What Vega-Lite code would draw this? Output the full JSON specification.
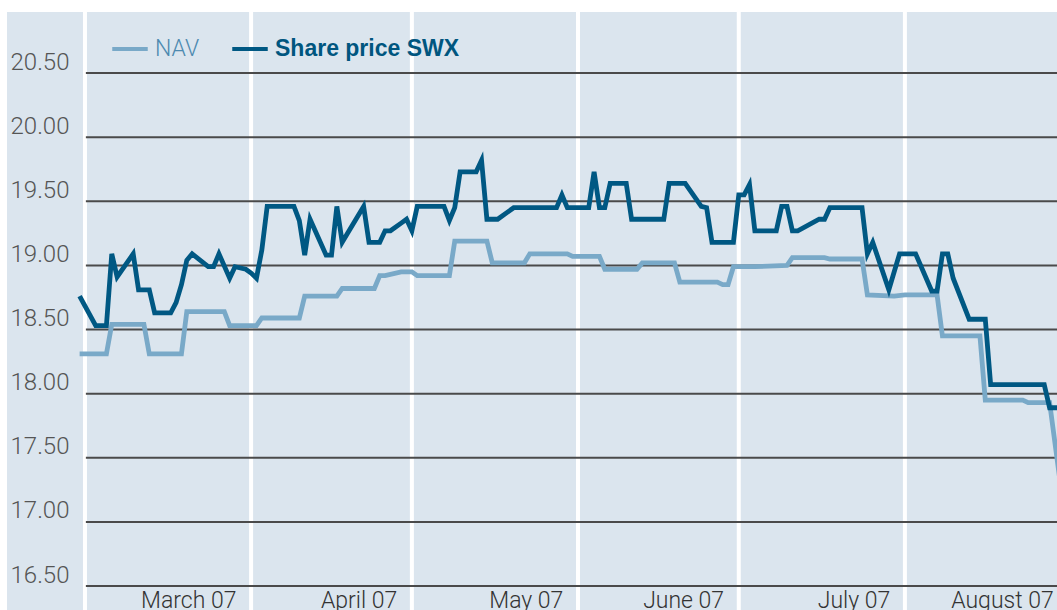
{
  "$schema": "https://vega.github.io/schema/vega-lite/v6.json",
  "width": 1050,
  "height": 598,
  "autosize": {"type": "none"},
  "padding": {"left": 7, "top": 12, "right": 0, "bottom": 0},
  "background": "white",
  "config": {
    "view": {"fill": "#dbe5ee", "stroke": null},
    "axisX": {
      "orient": "bottom", "title": null,
      "format": "%B %y", "labelAlign": "right", "labelOffset": 17, "labelPadding": -3,
      "labelBaseline": "alphabetic", "ticks": false, "tickSize": 0, "domain": false, "grid": false,
      "labelFont": "Roboto", "labelFontWeight": 300, "labelFontSize": 23, "labelColor": "#333333",
      "labelOverlap": false, "labelFlush": false, "labelBound": false
    },
    "axisY": {
      "orient": "left", "title": null,
      "format": ".2f", "labelAlign": "left", "labelPadding": -3, "labelBaseline": "alphabetic", "labelOffset": -4,
      "ticks": false, "tickSize": 0, "domain": false, "grid": false,
      "labelFont": "Roboto", "labelFontWeight": 300, "labelFontSize": 24, "labelColor": "#555555"
    }
  },
  "datasets": {
    "months": [
      {"month_start": "2007-03-01"}, {"month_start": "2007-04-01"}, {"month_start": "2007-05-01"},
      {"month_start": "2007-06-01"}, {"month_start": "2007-07-01"}, {"month_start": "2007-08-01"}
    ],
    "grid": [{"level": 16.5}, {"level": 17.0}, {"level": 17.5}, {"level": 18.0}, {"level": 18.5}, {"level": 19.0}, {"level": 19.5}, {"level": 20.0}, {"level": 20.5}],
    "prices": [
      {"date": "2007-02-28", "series": "NAV", "value": 18.31},
      {"date": "2007-03-05", "series": "NAV", "value": 18.31},
      {"date": "2007-03-06", "series": "NAV", "value": 18.54},
      {"date": "2007-03-12", "series": "NAV", "value": 18.54},
      {"date": "2007-03-13", "series": "NAV", "value": 18.31},
      {"date": "2007-03-19", "series": "NAV", "value": 18.31},
      {"date": "2007-03-20", "series": "NAV", "value": 18.64},
      {"date": "2007-03-27", "series": "NAV", "value": 18.64},
      {"date": "2007-03-28", "series": "NAV", "value": 18.53},
      {"date": "2007-04-02", "series": "NAV", "value": 18.53},
      {"date": "2007-04-03", "series": "NAV", "value": 18.59},
      {"date": "2007-04-10", "series": "NAV", "value": 18.59},
      {"date": "2007-04-11", "series": "NAV", "value": 18.76},
      {"date": "2007-04-17", "series": "NAV", "value": 18.76},
      {"date": "2007-04-18", "series": "NAV", "value": 18.82},
      {"date": "2007-04-24", "series": "NAV", "value": 18.82},
      {"date": "2007-04-25", "series": "NAV", "value": 18.92},
      {"date": "2007-04-26", "series": "NAV", "value": 18.92},
      {"date": "2007-04-29", "series": "NAV", "value": 18.95},
      {"date": "2007-05-01", "series": "NAV", "value": 18.95},
      {"date": "2007-05-02", "series": "NAV", "value": 18.92},
      {"date": "2007-05-08", "series": "NAV", "value": 18.92},
      {"date": "2007-05-09", "series": "NAV", "value": 19.19},
      {"date": "2007-05-15", "series": "NAV", "value": 19.19},
      {"date": "2007-05-16", "series": "NAV", "value": 19.02},
      {"date": "2007-05-22", "series": "NAV", "value": 19.02},
      {"date": "2007-05-23", "series": "NAV", "value": 19.09},
      {"date": "2007-05-30", "series": "NAV", "value": 19.09},
      {"date": "2007-05-31", "series": "NAV", "value": 19.07},
      {"date": "2007-06-05", "series": "NAV", "value": 19.07},
      {"date": "2007-06-06", "series": "NAV", "value": 18.97},
      {"date": "2007-06-12", "series": "NAV", "value": 18.97},
      {"date": "2007-06-13", "series": "NAV", "value": 19.02},
      {"date": "2007-06-19", "series": "NAV", "value": 19.02},
      {"date": "2007-06-20", "series": "NAV", "value": 18.87},
      {"date": "2007-06-27", "series": "NAV", "value": 18.87},
      {"date": "2007-06-28", "series": "NAV", "value": 18.85},
      {"date": "2007-06-29", "series": "NAV", "value": 18.85},
      {"date": "2007-06-30", "series": "NAV", "value": 18.99},
      {"date": "2007-07-04", "series": "NAV", "value": 18.99},
      {"date": "2007-07-10", "series": "NAV", "value": 19.0},
      {"date": "2007-07-11", "series": "NAV", "value": 19.06},
      {"date": "2007-07-17", "series": "NAV", "value": 19.06},
      {"date": "2007-07-18", "series": "NAV", "value": 19.05},
      {"date": "2007-07-24", "series": "NAV", "value": 19.05},
      {"date": "2007-07-25", "series": "NAV", "value": 18.77},
      {"date": "2007-07-30", "series": "NAV", "value": 18.76},
      {"date": "2007-08-01", "series": "NAV", "value": 18.77},
      {"date": "2007-08-07", "series": "NAV", "value": 18.77},
      {"date": "2007-08-08", "series": "NAV", "value": 18.45},
      {"date": "2007-08-15", "series": "NAV", "value": 18.45},
      {"date": "2007-08-16", "series": "NAV", "value": 17.95},
      {"date": "2007-08-23", "series": "NAV", "value": 17.95},
      {"date": "2007-08-24", "series": "NAV", "value": 17.93},
      {"date": "2007-08-28", "series": "NAV", "value": 17.93},
      {"date": "2007-08-30", "series": "NAV", "value": 17.3},
      {"date": "2007-02-28", "series": "Share price SWX", "value": 18.76},
      {"date": "2007-03-03", "series": "Share price SWX", "value": 18.53},
      {"date": "2007-03-05", "series": "Share price SWX", "value": 18.53},
      {"date": "2007-03-06", "series": "Share price SWX", "value": 19.09},
      {"date": "2007-03-07", "series": "Share price SWX", "value": 18.91},
      {"date": "2007-03-10", "series": "Share price SWX", "value": 19.09},
      {"date": "2007-03-11", "series": "Share price SWX", "value": 18.81},
      {"date": "2007-03-13", "series": "Share price SWX", "value": 18.81},
      {"date": "2007-03-14", "series": "Share price SWX", "value": 18.63},
      {"date": "2007-03-17", "series": "Share price SWX", "value": 18.63},
      {"date": "2007-03-18", "series": "Share price SWX", "value": 18.71},
      {"date": "2007-03-19", "series": "Share price SWX", "value": 18.85},
      {"date": "2007-03-20", "series": "Share price SWX", "value": 19.04},
      {"date": "2007-03-21", "series": "Share price SWX", "value": 19.09},
      {"date": "2007-03-24", "series": "Share price SWX", "value": 18.99},
      {"date": "2007-03-25", "series": "Share price SWX", "value": 18.99},
      {"date": "2007-03-26", "series": "Share price SWX", "value": 19.09},
      {"date": "2007-03-28", "series": "Share price SWX", "value": 18.9},
      {"date": "2007-03-29", "series": "Share price SWX", "value": 18.99},
      {"date": "2007-03-31", "series": "Share price SWX", "value": 18.97},
      {"date": "2007-04-01", "series": "Share price SWX", "value": 18.94},
      {"date": "2007-04-02", "series": "Share price SWX", "value": 18.9},
      {"date": "2007-04-03", "series": "Share price SWX", "value": 19.12},
      {"date": "2007-04-04", "series": "Share price SWX", "value": 19.46},
      {"date": "2007-04-09", "series": "Share price SWX", "value": 19.46},
      {"date": "2007-04-10", "series": "Share price SWX", "value": 19.35},
      {"date": "2007-04-11", "series": "Share price SWX", "value": 19.08},
      {"date": "2007-04-12", "series": "Share price SWX", "value": 19.36},
      {"date": "2007-04-15", "series": "Share price SWX", "value": 19.08},
      {"date": "2007-04-16", "series": "Share price SWX", "value": 19.08},
      {"date": "2007-04-17", "series": "Share price SWX", "value": 19.46},
      {"date": "2007-04-18", "series": "Share price SWX", "value": 19.18},
      {"date": "2007-04-19", "series": "Share price SWX", "value": 19.25},
      {"date": "2007-04-22", "series": "Share price SWX", "value": 19.46},
      {"date": "2007-04-23", "series": "Share price SWX", "value": 19.18},
      {"date": "2007-04-25", "series": "Share price SWX", "value": 19.18},
      {"date": "2007-04-26", "series": "Share price SWX", "value": 19.27},
      {"date": "2007-04-27", "series": "Share price SWX", "value": 19.27},
      {"date": "2007-04-29", "series": "Share price SWX", "value": 19.33},
      {"date": "2007-04-30", "series": "Share price SWX", "value": 19.36},
      {"date": "2007-05-01", "series": "Share price SWX", "value": 19.27},
      {"date": "2007-05-02", "series": "Share price SWX", "value": 19.46},
      {"date": "2007-05-07", "series": "Share price SWX", "value": 19.46},
      {"date": "2007-05-08", "series": "Share price SWX", "value": 19.35},
      {"date": "2007-05-09", "series": "Share price SWX", "value": 19.45},
      {"date": "2007-05-10", "series": "Share price SWX", "value": 19.73},
      {"date": "2007-05-13", "series": "Share price SWX", "value": 19.73},
      {"date": "2007-05-14", "series": "Share price SWX", "value": 19.82},
      {"date": "2007-05-15", "series": "Share price SWX", "value": 19.36},
      {"date": "2007-05-17", "series": "Share price SWX", "value": 19.36},
      {"date": "2007-05-20", "series": "Share price SWX", "value": 19.45},
      {"date": "2007-05-28", "series": "Share price SWX", "value": 19.45},
      {"date": "2007-05-29", "series": "Share price SWX", "value": 19.55},
      {"date": "2007-05-30", "series": "Share price SWX", "value": 19.45},
      {"date": "2007-06-03", "series": "Share price SWX", "value": 19.45},
      {"date": "2007-06-04", "series": "Share price SWX", "value": 19.73},
      {"date": "2007-06-05", "series": "Share price SWX", "value": 19.45},
      {"date": "2007-06-06", "series": "Share price SWX", "value": 19.45},
      {"date": "2007-06-07", "series": "Share price SWX", "value": 19.64},
      {"date": "2007-06-10", "series": "Share price SWX", "value": 19.64},
      {"date": "2007-06-11", "series": "Share price SWX", "value": 19.36},
      {"date": "2007-06-17", "series": "Share price SWX", "value": 19.36},
      {"date": "2007-06-18", "series": "Share price SWX", "value": 19.64},
      {"date": "2007-06-21", "series": "Share price SWX", "value": 19.64},
      {"date": "2007-06-24", "series": "Share price SWX", "value": 19.46},
      {"date": "2007-06-25", "series": "Share price SWX", "value": 19.45},
      {"date": "2007-06-26", "series": "Share price SWX", "value": 19.18},
      {"date": "2007-06-30", "series": "Share price SWX", "value": 19.18},
      {"date": "2007-07-01", "series": "Share price SWX", "value": 19.55},
      {"date": "2007-07-02", "series": "Share price SWX", "value": 19.55},
      {"date": "2007-07-03", "series": "Share price SWX", "value": 19.63},
      {"date": "2007-07-04", "series": "Share price SWX", "value": 19.27},
      {"date": "2007-07-08", "series": "Share price SWX", "value": 19.27},
      {"date": "2007-07-09", "series": "Share price SWX", "value": 19.46},
      {"date": "2007-07-10", "series": "Share price SWX", "value": 19.46},
      {"date": "2007-07-11", "series": "Share price SWX", "value": 19.27},
      {"date": "2007-07-12", "series": "Share price SWX", "value": 19.27},
      {"date": "2007-07-16", "series": "Share price SWX", "value": 19.36},
      {"date": "2007-07-17", "series": "Share price SWX", "value": 19.36},
      {"date": "2007-07-18", "series": "Share price SWX", "value": 19.45},
      {"date": "2007-07-24", "series": "Share price SWX", "value": 19.45},
      {"date": "2007-07-25", "series": "Share price SWX", "value": 19.09},
      {"date": "2007-07-26", "series": "Share price SWX", "value": 19.18},
      {"date": "2007-07-29", "series": "Share price SWX", "value": 18.81},
      {"date": "2007-07-31", "series": "Share price SWX", "value": 19.09},
      {"date": "2007-08-03", "series": "Share price SWX", "value": 19.09},
      {"date": "2007-08-06", "series": "Share price SWX", "value": 18.8},
      {"date": "2007-08-07", "series": "Share price SWX", "value": 18.8},
      {"date": "2007-08-08", "series": "Share price SWX", "value": 19.09},
      {"date": "2007-08-09", "series": "Share price SWX", "value": 19.09},
      {"date": "2007-08-10", "series": "Share price SWX", "value": 18.9},
      {"date": "2007-08-13", "series": "Share price SWX", "value": 18.58},
      {"date": "2007-08-16", "series": "Share price SWX", "value": 18.58},
      {"date": "2007-08-17", "series": "Share price SWX", "value": 18.07},
      {"date": "2007-08-27", "series": "Share price SWX", "value": 18.07},
      {"date": "2007-08-28", "series": "Share price SWX", "value": 17.89},
      {"date": "2007-08-30", "series": "Share price SWX", "value": 17.89}
    ]
  },
  "layer": [
    {
      "data": {"name": "months"},
      "mark": {"type": "rule", "color": "#ffffff", "strokeWidth": 4},
      "encoding": {
        "x": {
          "field": "month_start", "type": "temporal",
          "scale": {"type": "utc", "domain": [{"year": 2007, "month": 2, "date": 14, "hours": 10, "minutes": 48, "utc": true}, {"year": 2007, "month": 8, "date": 29, "hours": 9, "minutes": 7, "utc": true}]},
          "axis": {
            "title": null,
            "values": [
              {"year": 2007, "month": 3, "date": 26, "utc": true},
              {"year": 2007, "month": 4, "date": 25, "utc": true},
              {"year": 2007, "month": 5, "date": 26, "utc": true},
              {"year": 2007, "month": 6, "date": 25, "utc": true},
              {"year": 2007, "month": 7, "date": 26, "utc": true},
              {"year": 2007, "month": 8, "date": 25, "hours": 12, "utc": true}
            ]
          }
        }
      }
    },
    {
      "data": {"name": "grid"},
      "mark": {"type": "rule", "color": "#4a4a4a", "strokeWidth": 2, "clip": true},
      "encoding": {
        "y": {
          "field": "level", "type": "quantitative",
          "scale": {"domain": [16.313, 20.976], "nice": false, "zero": false},
          "axis": {"title": null, "values": [16.5, 17.0, 17.5, 18.0, 18.5, 19.0, 19.5, 20.0, 20.5]}
        },
        "x": {"datum": {"year": 2007, "month": 3, "date": 1, "hours": 4, "utc": true}, "type": "temporal"},
        "x2": {"datum": {"year": 2007, "month": 9, "date": 5, "utc": true}}
      }
    },
    {
      "mark": {"type": "rule", "color": "#2a6890", "strokeWidth": 2},
      "encoding": {
        "y": {"datum": 20.976, "type": "quantitative"}
      }
    },
    {
      "data": {"name": "prices"},
      "mark": {"type": "line", "strokeWidth": 4.8, "clip": true},
      "encoding": {
        "x": {
          "field": "date", "type": "temporal",
          "axis": {
            "title": null,
            "values": [
              {"year": 2007, "month": 3, "date": 26, "utc": true},
              {"year": 2007, "month": 4, "date": 25, "utc": true},
              {"year": 2007, "month": 5, "date": 26, "utc": true},
              {"year": 2007, "month": 6, "date": 25, "utc": true},
              {"year": 2007, "month": 7, "date": 26, "utc": true},
              {"year": 2007, "month": 8, "date": 25, "hours": 12, "utc": true}
            ]
          }
        },
        "y": {
          "field": "value", "type": "quantitative",
          "scale": {"domain": [16.313, 20.976], "nice": false, "zero": false},
          "axis": {"title": null, "values": [16.5, 17.0, 17.5, 18.0, 18.5, 19.0, 19.5, 20.0, 20.5]}
        },
        "color": {
          "field": "series", "type": "nominal",
          "scale": {"domain": ["NAV", "Share price SWX"], "range": ["#79a9c8", "#005883"]},
          "legend": {
            "orient": "none", "legendX": 103, "legendY": 17, "direction": "horizontal", "title": null,
            "symbolType": "stroke", "symbolSize": 1260, "symbolStrokeWidth": 4,
            "labelFontSize": 23, "labelOffset": 5, "columnPadding": 24, "padding": 0, "labelLimit": 400,
            "labelFont": {"expr": "datum.value === 'NAV' ? 'Roboto' : 'Liberation Sans'"},
            "labelColor": {"expr": "datum.value === 'NAV' ? '#4d8ab0' : '#00567f'"},
            "labelFontWeight": {"expr": "datum.value === 'NAV' ? 300 : 700"}
          }
        }
      }
    }
  ]
}
